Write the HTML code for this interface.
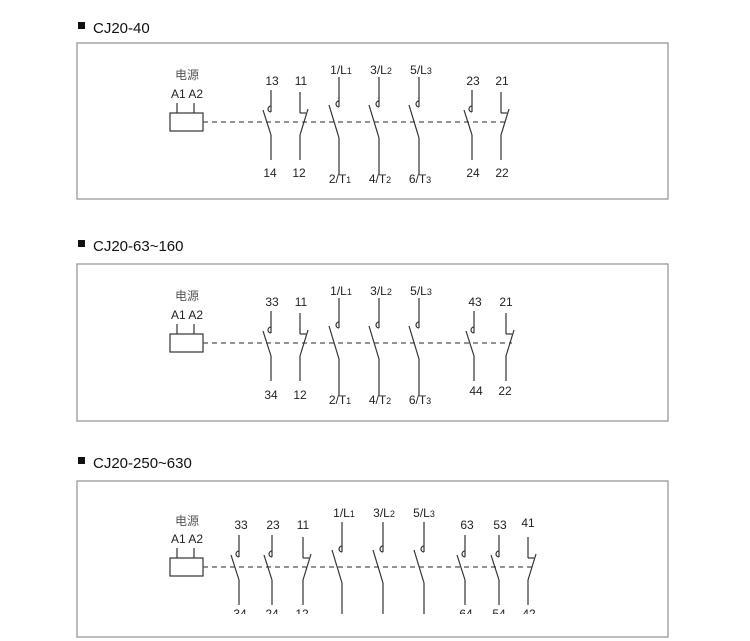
<!DOCTYPE html>
<html><head><meta charset="utf-8"><style>
html,body{margin:0;padding:0;background:#fff;}
svg{display:block;font-family:"Liberation Sans","Noto Sans CJK SC",sans-serif;}
.t{font-size:15px;fill:#111}
.l{font-size:12px;fill:#222}
.c{font-size:12px;fill:#555}
</style></head><body>
<svg id="s" width="750" height="641" viewBox="0 0 750 641" xmlns="http://www.w3.org/2000/svg">
<g fill="none" stroke="#999" stroke-width="1.3">
<rect x="77" y="43" width="591" height="156"/>
<rect x="77" y="264" width="591" height="157"/>
<rect x="77" y="481" width="591" height="156"/>
</g>
<rect x="78" y="22" width="7" height="7" fill="#111"/>
<text class="t" x="93" y="33">CJ20-40</text>
<rect x="78" y="240" width="7" height="7" fill="#111"/>
<text class="t" x="93" y="251">CJ20-63~160</text>
<rect x="78" y="457" width="7" height="7" fill="#111"/>
<text class="t" x="93" y="468">CJ20-250~630</text>
<g id="shapes" fill="none" stroke="#333" stroke-width="1.2"></g>
<g text-anchor="middle">
<text class="c" x="187" y="79">电源</text><text class="l" x="187" y="98">A1 A2</text>
<text class="l" x="272" y="85">13</text><text class="l" x="301" y="85">11</text>
<text class="l" x="341" y="74">1/L<tspan font-size="9">1</tspan></text>
<text class="l" x="381" y="74">3/L<tspan font-size="9">2</tspan></text>
<text class="l" x="421" y="74">5/L<tspan font-size="9">3</tspan></text>
<text class="l" x="473" y="85">23</text><text class="l" x="502" y="85">21</text>
<text class="l" x="270" y="177">14</text><text class="l" x="299" y="177">12</text>
<text class="l" x="340" y="183">2/T<tspan font-size="9">1</tspan></text>
<text class="l" x="380" y="183">4/T<tspan font-size="9">2</tspan></text>
<text class="l" x="420" y="183">6/T<tspan font-size="9">3</tspan></text>
<text class="l" x="473" y="177">24</text><text class="l" x="502" y="177">22</text>
<text class="c" x="187" y="300">电源</text><text class="l" x="187" y="319">A1 A2</text>
<text class="l" x="272" y="306">33</text><text class="l" x="301" y="306">11</text>
<text class="l" x="341" y="295">1/L<tspan font-size="9">1</tspan></text>
<text class="l" x="381" y="295">3/L<tspan font-size="9">2</tspan></text>
<text class="l" x="421" y="295">5/L<tspan font-size="9">3</tspan></text>
<text class="l" x="475" y="306">43</text><text class="l" x="506" y="306">21</text>
<text class="l" x="271" y="399">34</text><text class="l" x="300" y="399">12</text>
<text class="l" x="340" y="404">2/T<tspan font-size="9">1</tspan></text>
<text class="l" x="380" y="404">4/T<tspan font-size="9">2</tspan></text>
<text class="l" x="420" y="404">6/T<tspan font-size="9">3</tspan></text>
<text class="l" x="476" y="395">44</text><text class="l" x="505" y="395">22</text>
<text class="c" x="187" y="525">电源</text><text class="l" x="187" y="543">A1 A2</text>
<text class="l" x="241" y="529">33</text><text class="l" x="273" y="529">23</text><text class="l" x="303" y="529">11</text>
<text class="l" x="344" y="517">1/L<tspan font-size="9">1</tspan></text>
<text class="l" x="384" y="517">3/L<tspan font-size="9">2</tspan></text>
<text class="l" x="424" y="517">5/L<tspan font-size="9">3</tspan></text>
<text class="l" x="467" y="529">63</text><text class="l" x="500" y="529">53</text><text class="l" x="528" y="527">41</text>
<text class="l" x="240" y="618">34</text><text class="l" x="272" y="618">24</text><text class="l" x="302" y="618">12</text>
<text class="l" x="466" y="618">64</text><text class="l" x="499" y="618">54</text><text class="l" x="529" y="618">42</text>
</g>
<rect x="200" y="614" width="360" height="16" fill="#fff"/>
</svg>
<script>
var g=document.getElementById('shapes'),h='';
function L(a,b,c,d,extra){h+='<line x1="'+a+'" y1="'+b+'" x2="'+c+'" y2="'+d+'"'+(extra||'')+'/>';}
function hook(x,y){h+='<path d="M'+x+' '+(y-6)+' A3 3 0 0 0 '+x+' '+y+'"/>';}
function coil(d,x1,x2){h+='<rect x="170" y="'+(d-9)+'" width="33" height="18"/>';L(177,d-19,177,d-9);L(194,d-19,194,d-9);L(203,d,x2,d,' stroke-dasharray="5,4" stroke="#555"');}
function NO(x,d){L(x,d-32,x,d-10);hook(x,d-10);L(x-8,d-12,x,d+13);L(x,d+13,x,d+38);}
function NC(x,d){L(x,d-30,x,d-9);L(x,d-9,x+6,d-9);L(x+8,d-13,x,d+13);L(x,d+13,x,d+38);}
function M(x,d){L(x,d-45,x,d-15);hook(x,d-15);L(x-10,d-17,x,d+16);L(x,d+16,x,d+53);}
var d=122;coil(d,0,508);NO(271,d);NC(300,d);M(339,d);M(379,d);M(419,d);NO(472,d);NC(501,d);
d=343;coil(d,0,512);NO(271,d);NC(300,d);M(339,d);M(379,d);M(419,d);NO(474,d);NC(506,d);
d=567;coil(d,0,535);NO(239,d);NO(272,d);NC(303,d);M(342,d);M(383,d);M(424,d);NO(465,d);NO(499,d);NC(528,d);
g.innerHTML=h;
</script>
</body></html>
